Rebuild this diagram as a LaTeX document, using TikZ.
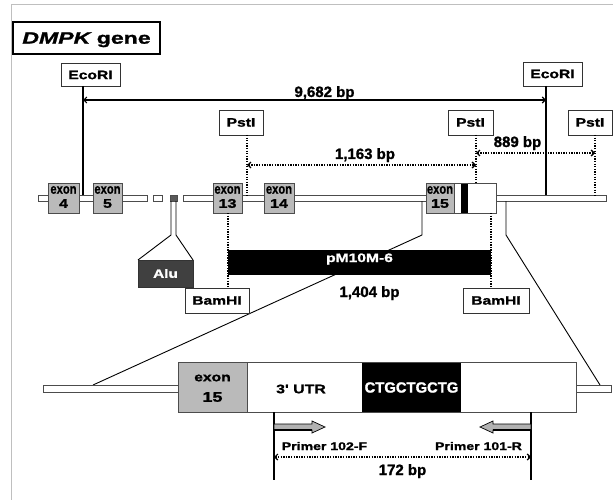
\documentclass[tikz,border=0pt]{standalone}
\usepackage{fontspec}
\setmainfont{Liberation Sans}
\newfontfamily\wfont[FakeStretch=1.28, FakeBold=1.3]{Liberation Sans Bold}
\newfontfamily\tfont[FakeStretch=1.4, FakeBold=1.3]{Liberation Sans Bold}
\newfontfamily\tifont[FakeStretch=1.4, FakeBold=1.3]{Liberation Sans Bold Italic}
\newfontfamily\nfont[FakeStretch=0.8, FakeBold=0.8]{Liberation Sans Bold}
\newfontfamily\dfont[FakeBold=1.2]{Liberation Sans Bold}
\usetikzlibrary{arrows.meta}
\begin{document}
\begin{tikzpicture}[x=1pt,y=-1pt,
 lab/.style={draw=black!80, fill=white, line width=0.9pt, inner sep=0pt, font=\wfont\fontsize{12.2}{14}\selectfont},
 dimtext/.style={anchor=base, font=\dfont\fontsize{15}{17}\selectfont},
 gline/.style={draw=black!70, fill=white, line width=0.7pt},
 exonbox/.style={draw=black!70, fill=black!27, line width=0.9pt},
 exw/.style={font=\nfont\fontsize{14}{15}\selectfont, inner sep=0pt},
 exn/.style={font=\wfont\fontsize{12.6}{14}\selectfont, inner sep=0pt},
 cutline/.style={line width=1.8pt},
 dimline/.style={line width=1.1pt, {Straight Barb[length=3pt,width=6pt]}-{Straight Barb[length=3pt,width=6pt]}},
 dotline/.style={line width=1.4pt, dash pattern=on 1.3pt off 1.3pt},
 dotdim/.style={dotline, {Straight Barb[length=3pt,width=6pt]}-{Straight Barb[length=3pt,width=6pt]}},
 primer/.style={draw=black, fill=black!30, line width=0.7pt},
 zoomline/.style={line width=0.9pt},
]
\useasboundingbox (0,0) rectangle (613,500);
\fill[white] (0,0) rectangle (613,500);
\draw[black!25, line width=0.8pt] (11,500) -- (11,4) -- (613,4);

% title
\node[draw, line width=1.6pt, minimum width=147pt, minimum height=32pt, inner sep=0pt, text depth=0pt,
      font=\tfont\fontsize{16.5}{18}\selectfont] (title) at (86.5,38) {{\tifont DMPK} gene};

% restriction site labels
\node[lab, minimum width=59pt, minimum height=23pt] (eco1) at (90.5,75) {EcoRI};
\node[lab, minimum width=59pt, minimum height=24pt] (eco2) at (552.5,74) {EcoRI};
\node[lab, minimum width=44pt, minimum height=25pt] (pst1) at (241,122.5) {PstI};
\node[lab, minimum width=45pt, minimum height=25pt] (pst2) at (470.5,122.5) {PstI};
\node[lab, minimum width=44pt, minimum height=25pt] (pst3) at (590,122.5) {PstI};

% gene line
\draw[gline] (38,195) rectangle (147,201);
\draw[gline] (153,195) rectangle (162,201);
\draw[gline] (183,195) rectangle (606,201);
\draw[draw=black!70, fill=black!65, line width=0.6pt] (170,195) rectangle (177,201);

% connector coordinates
\coordinate (e1a) at (83,86);   \coordinate (e1b) at (83,195);
\coordinate (e2a) at (546,86);  \coordinate (e2b) at (546,195);
\coordinate (p1a) at (247,135); \coordinate (p1b) at (247,195);
\coordinate (p2a) at (476,135); \coordinate (p2b) at (476,183);
\coordinate (p3a) at (595,135); \coordinate (p3b) at (595,195);

\draw[cutline] (e1a) -- (e1b);
\draw[cutline] (e2a) -- (e2b);
\draw[dotline] (p1a) -- (p1b);
\draw[dotline] (p2a) -- (p2b);
\draw[dotline] (p3a) -- (p3b);

% dimensions
\draw[dimline] (83,100) -- (546,100);
\node[dimtext] (d1) at (324.5,97) {9,682 bp};
\draw[dotdim] (247,165) -- (476,165);
\node[dimtext] (d2) at (365,159) {1,163 bp};
\draw[dotdim] (476,153) -- (595,153);
\node[dimtext] (d3) at (517.5,147) {889 bp};

% exons on gene
\draw[exonbox] (48,183) rectangle (79,213);
\draw[exonbox] (93,183) rectangle (122,213);
\draw[exonbox] (213,183) rectangle (242,213);
\draw[exonbox] (264,183) rectangle (294,213);
\draw[exonbox] (426,183) rectangle (454,213);
\draw[draw=black!70, fill=white, line width=0.9pt] (454,183) rectangle (496,213);
\fill[black] (461,183.5) rectangle (468,212.5);

\node[exw] (x4a) at (63.5,190) {exon};   \node[exn] (x4b) at (63.5,203.5) {4};
\node[exw] (x5a) at (107.5,190) {exon};  \node[exn] (x5b) at (107.5,203.5) {5};
\node[exw] (x13a) at (227.5,190) {exon}; \node[exn] (x13b) at (227.5,203.5) {13};
\node[exw] (x14a) at (279,190) {exon};   \node[exn] (x14b) at (279,203.5) {14};
\node[exw] (x15a) at (440,190) {exon};   \node[exn] (x15b) at (440,203.5) {15};

% Alu insertion
\draw[zoomline] (171,201) -- (171,235) -- (138,260);
\draw[zoomline] (176,201) -- (176,235) -- (193,260);
\node[draw=black!80, fill=black!75, text=white, minimum width=55pt, minimum height=27pt, inner sep=0pt,
      font=\wfont\fontsize{12}{14}\selectfont] (alu) at (165.5,273.5) {Alu};

% zoom lines to the lower detail
\coordinate (zl1) at (422,201); \coordinate (zl2) at (422,235); \coordinate (zl3) at (93,385);
\coordinate (zr1) at (506,201); \coordinate (zr2) at (506,235); \coordinate (zr3) at (600,385);
\draw[zoomline] (zl1) -- (zl2) -- (zl3);
\draw[zoomline] (zr1) -- (zr2) -- (zr3);

% pM10M-6 clone
\fill[black] (228,250) rectangle (491,275);
\node[text=white, anchor=base, font=\wfont\fontsize{12.2}{14}\selectfont] (pm) at (359.5,262) {pM10M-6};

\node[lab, minimum width=64pt, minimum height=25pt] (bam1) at (217,300.5) {BamHI};
\node[lab, minimum width=66pt, minimum height=25pt] (bam2) at (496,300.5) {BamHI};
\coordinate (b1a) at (228,213); \coordinate (b2a) at (491,213);
\draw[dotline] (b1a) -- (b1a |- bam1.north);
\draw[dotline] (b2a) -- (b2a |- bam2.north);
\node[dimtext] (d4) at (369.5,297) {1,404 bp};

% lower detail
\draw[gline] (43,385) rectangle (178,392);
\draw[gline] (576,385) rectangle (611,392);
\draw[exonbox] (178,362) rectangle (247,412);
\draw[draw=black!70, fill=white, line width=0.9pt] (247,362) rectangle (576,412);
\fill[black] (362,362.5) rectangle (461,411.5);
\node[font=\wfont\fontsize{12.2}{14}\selectfont, inner sep=0pt] (lx1) at (212.5,378) {exon};
\node[font=\wfont\fontsize{14}{16}\selectfont, inner sep=0pt] (lx2) at (212.5,397) {15};
\node[font=\wfont\fontsize{12.4}{14}\selectfont, inner sep=0pt] (utr) at (301,389) {3' UTR};
\node[text=white, font=\dfont\fontsize{14.8}{16}\selectfont, inner sep=0pt] (rep) at (411.5,387.5) {CTGCTGCTG};

% primers
\coordinate (pfa) at (274,412); \coordinate (pfb) at (274,480);
\coordinate (pra) at (531,412); \coordinate (prb) at (531,480);
\draw[line width=1.1pt] (pfa) -- (pfb);
\draw[line width=1.1pt] (pra) -- (prb);
\draw[primer] (274,424) -- (312,424) -- (312,421) -- (325,427) -- (312,433) -- (312,430) -- (274,430) -- cycle;
\draw[line width=1.5pt] (274,430) -- (312,430);
\draw[primer] (531,424) -- (493,424) -- (493,421) -- (480,427) -- (493,433) -- (493,430) -- (531,430) -- cycle;
\draw[line width=1.5pt] (531,430) -- (493,430);
\node[anchor=base, font=\wfont\fontsize{11}{13}\selectfont] (pfl) at (324.5,450) {Primer 102-F};
\node[anchor=base, font=\wfont\fontsize{11}{13}\selectfont] (prl) at (478.5,450) {Primer 101-R};
\draw[dotdim, line width=1.2pt] (274,457) -- (531,457);
\node[dimtext] (d5) at (402.5,475) {172 bp};
\end{tikzpicture}
\end{document}
